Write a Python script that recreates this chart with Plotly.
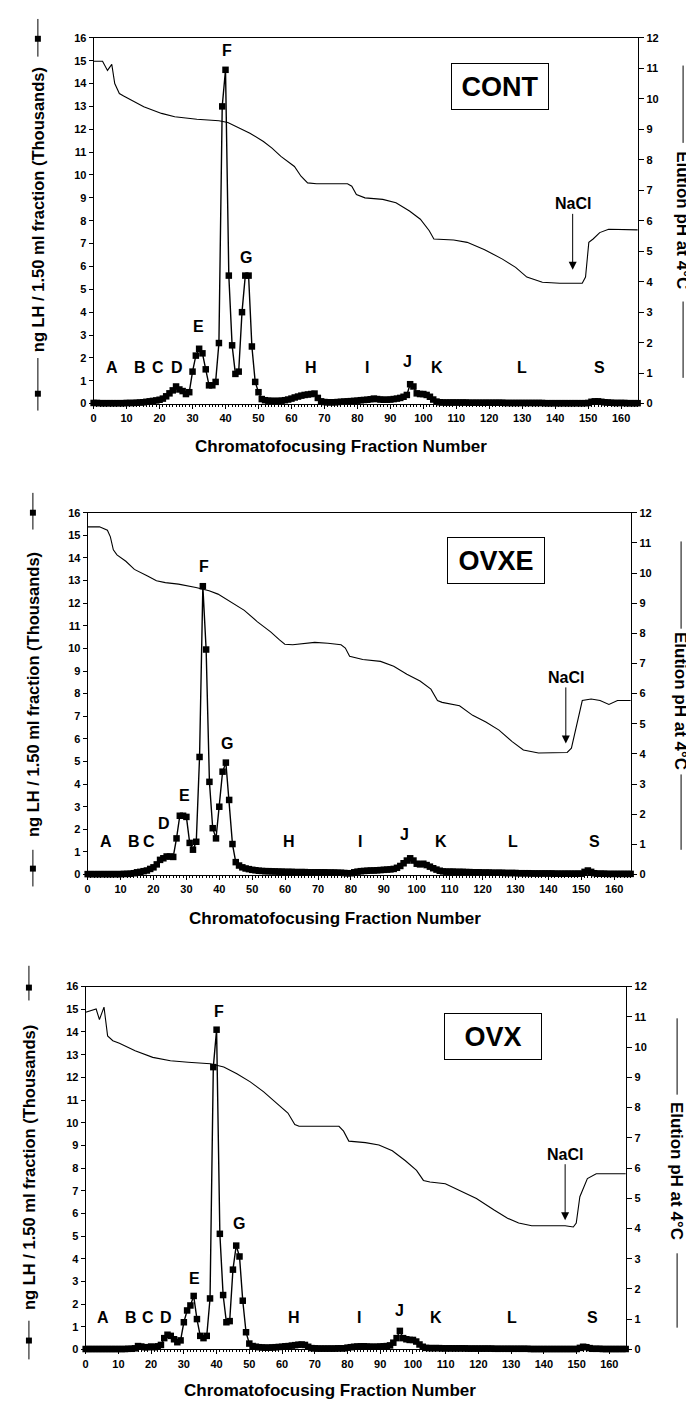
import plotly.graph_objects as go

W, H = 694, 1402
FONT = "Liberation Sans, Arial, sans-serif"

fractions = list(range(166))

lh_cont = [
    0.03, 0.03, 0.02, 0.02, 0.02, 0.02, 0.02, 0.02, 0.02, 0.02,
    0.03, 0.03, 0.03, 0.04, 0.05, 0.06, 0.08, 0.10, 0.12, 0.14,
    0.17, 0.22, 0.32, 0.45, 0.58, 0.75, 0.62, 0.55, 0.42, 0.50,
    1.40, 2.10, 2.40, 2.20, 1.50, 0.80, 0.80, 0.95, 2.65, 13.0,
    14.6, 5.60, 2.55, 1.30, 1.40, 4.00, 5.60, 5.60, 2.50, 0.95,
    0.50, 0.20, 0.15, 0.13, 0.12, 0.12, 0.12, 0.13, 0.15, 0.18,
    0.22, 0.27, 0.31, 0.35, 0.38, 0.40, 0.42, 0.44, 0.25, 0.10,
    0.07, 0.06, 0.06, 0.06, 0.07, 0.08, 0.09, 0.10, 0.11, 0.12,
    0.13, 0.15, 0.16, 0.17, 0.19, 0.22, 0.20, 0.18, 0.17, 0.17,
    0.18, 0.20, 0.22, 0.25, 0.30, 0.38, 0.85, 0.75, 0.45, 0.42,
    0.42, 0.38, 0.30, 0.18, 0.09, 0.06, 0.05, 0.05, 0.05, 0.05,
    0.05, 0.05, 0.05, 0.05, 0.04, 0.04, 0.04, 0.04, 0.04, 0.04,
    0.04, 0.04, 0.04, 0.04, 0.04, 0.03, 0.03, 0.03, 0.03, 0.03,
    0.03, 0.03, 0.03, 0.03, 0.03, 0.03, 0.03, 0.02, 0.02, 0.02,
    0.02, 0.02, 0.02, 0.02, 0.02, 0.02, 0.02, 0.02, 0.02, 0.02,
    0.03, 0.08, 0.10, 0.10, 0.08, 0.06, 0.05, 0.04, 0.03, 0.03,
    0.03, 0.03, 0.02, 0.02, 0.02, 0.02,
]

lh_ovxe = [
    0.02, 0.02, 0.02, 0.02, 0.02, 0.02, 0.02, 0.02, 0.02, 0.02,
    0.02, 0.03, 0.03, 0.04, 0.06, 0.10, 0.12, 0.15, 0.18, 0.25,
    0.32, 0.45, 0.65, 0.72, 0.80, 0.80, 0.78, 1.60, 2.60, 2.60,
    2.55, 1.40, 1.10, 1.45, 5.20, 12.75, 9.95, 4.10, 2.05, 1.60,
    3.00, 4.55, 4.95, 3.30, 1.35, 0.55, 0.40, 0.32, 0.27, 0.24,
    0.21, 0.19, 0.17, 0.16, 0.15, 0.15, 0.14, 0.14, 0.13, 0.13,
    0.12, 0.12, 0.12, 0.11, 0.11, 0.11, 0.11, 0.10, 0.10, 0.10,
    0.10, 0.10, 0.10, 0.09, 0.09, 0.09, 0.08, 0.08, 0.07, 0.06,
    0.06, 0.10, 0.13, 0.15, 0.16, 0.17, 0.18, 0.18, 0.19, 0.20,
    0.21, 0.22, 0.23, 0.25, 0.30, 0.38, 0.50, 0.62, 0.72, 0.62,
    0.48, 0.45, 0.48, 0.42, 0.35, 0.28, 0.22, 0.17, 0.14, 0.13,
    0.13, 0.13, 0.12, 0.12, 0.12, 0.11, 0.11, 0.10, 0.10, 0.10,
    0.09, 0.09, 0.09, 0.08, 0.08, 0.08, 0.08, 0.07, 0.07, 0.07,
    0.07, 0.06, 0.06, 0.06, 0.06, 0.05, 0.05, 0.05, 0.05, 0.05,
    0.05, 0.05, 0.04, 0.04, 0.04, 0.04, 0.04, 0.04, 0.04, 0.04,
    0.04, 0.12, 0.18, 0.12, 0.06, 0.04, 0.04, 0.04, 0.03, 0.03,
    0.03, 0.03, 0.03, 0.03, 0.03, 0.03,
]

lh_ovx = [
    0.02, 0.02, 0.02, 0.02, 0.02, 0.02, 0.02, 0.02, 0.02, 0.02,
    0.02, 0.02, 0.02, 0.03, 0.03, 0.05, 0.15, 0.13, 0.10, 0.10,
    0.13, 0.10, 0.14, 0.20, 0.50, 0.65, 0.60, 0.45, 0.32, 0.40,
    1.20, 1.72, 1.94, 2.36, 1.34, 0.60, 0.50, 0.60, 2.25, 12.45,
    14.1, 5.10, 2.40, 1.20, 1.25, 3.52, 4.58, 4.10, 2.15, 0.76,
    0.26, 0.15, 0.12, 0.10, 0.09, 0.08, 0.08, 0.09, 0.10, 0.11,
    0.12, 0.14, 0.15, 0.17, 0.19, 0.21, 0.22, 0.20, 0.12, 0.06,
    0.05, 0.04, 0.04, 0.04, 0.04, 0.04, 0.04, 0.05, 0.05, 0.05,
    0.08, 0.10, 0.12, 0.13, 0.14, 0.14, 0.13, 0.12, 0.12, 0.12,
    0.13, 0.14, 0.15, 0.18, 0.30, 0.50, 0.82, 0.50, 0.45, 0.42,
    0.42, 0.35, 0.22, 0.12, 0.07, 0.06, 0.06, 0.06, 0.06, 0.05,
    0.05, 0.05, 0.05, 0.05, 0.05, 0.05, 0.05, 0.04, 0.04, 0.04,
    0.04, 0.04, 0.04, 0.04, 0.04, 0.03, 0.03, 0.03, 0.03, 0.03,
    0.03, 0.03, 0.03, 0.03, 0.03, 0.03, 0.02, 0.02, 0.02, 0.02,
    0.02, 0.02, 0.02, 0.02, 0.02, 0.02, 0.02, 0.02, 0.02, 0.02,
    0.02, 0.07, 0.12, 0.10, 0.06, 0.03, 0.03, 0.03, 0.02, 0.02,
    0.02, 0.02, 0.02, 0.02, 0.02, 0.02,
]

ph_cont_x = [0, 2.7, 4.2, 5.5, 6.4, 7.8, 9.1, 12.5, 15.2, 20.6, 24.6, 31.3, 38.0, 40.7,
             43.4, 47.4, 51.5, 54.1, 56.8, 60.9, 62.9, 64.9, 67.6, 77.0, 78.3, 79.7,
             82.3, 87.7, 91.7, 95.8, 99.1, 101.8, 103.2, 109.2, 113.3, 118.6, 124.0,
             128.0, 131.4, 136.1, 141.4, 148.2, 149.2, 150.2, 151.5, 153.5, 156.2, 165]
ph_cont_y = [11.23, 11.23, 10.93, 11.13, 10.5, 10.17, 10.09, 9.9, 9.74, 9.52, 9.41, 9.33,
             9.28, 9.22, 9.09, 8.87, 8.6, 8.38, 8.11, 7.78, 7.46, 7.24, 7.21, 7.21, 7.13,
             6.86, 6.75, 6.7, 6.59, 6.32, 6.05, 5.67, 5.4, 5.37, 5.29, 5.05, 4.74, 4.47,
             4.15, 3.98, 3.95, 3.95, 4.15, 5.29, 5.4, 5.61, 5.72, 5.7]

ph_ovxe_x = [0, 3.6, 6.0, 6.9, 7.8, 8.9, 11.6, 14.2, 18.2, 20.9, 23.6, 27.6, 32.9, 36.9,
             39.6, 43.6, 47.6, 51.6, 55.6, 58.3, 59.9, 62.3, 69.0, 73.0, 77.0, 78.3,
             79.6, 83.6, 89.0, 93.0, 97.0, 101.0, 104.3, 106.3, 107.7, 113.0, 117.0,
             121.0, 125.0, 129.0, 132.4, 137.0, 145.7, 147.0, 149.0, 150.3, 153.0,
             155.7, 158.4, 161.0, 165]
ph_ovxe_y = [11.53, 11.53, 11.42, 11.2, 10.77, 10.6, 10.39, 10.12, 9.9, 9.74, 9.68, 9.63,
             9.52, 9.41, 9.3, 9.03, 8.76, 8.38, 8.05, 7.78, 7.64, 7.62, 7.7, 7.67, 7.62,
             7.51, 7.24, 7.13, 7.07, 6.91, 6.64, 6.42, 6.15, 5.77, 5.71, 5.6, 5.28, 5.06,
             4.79, 4.41, 4.13, 4.03, 4.05, 4.19, 5.11, 5.77, 5.82, 5.77, 5.64, 5.77, 5.77]

ph_ovx_x = [0, 3.2, 4.2, 5.6, 6.7, 8.3, 10.3, 15.1, 20.5, 25.9, 31.3, 38.1, 42.2, 46.2,
            50.3, 54.4, 58.4, 61.8, 63.9, 65.2, 77.4, 78.8, 80.4, 85.5, 89.6, 93.7,
            97.7, 101.1, 103.2, 105.2, 109.9, 114.0, 119.4, 124.8, 128.9, 132.3, 136.3,
            146.5, 149.0, 149.9, 151.0, 153.3, 156.0, 165]
ph_ovx_y = [11.15, 11.26, 10.91, 11.32, 10.37, 10.21, 10.13, 9.88, 9.66, 9.55, 9.5, 9.45,
            9.34, 9.12, 8.85, 8.52, 8.14, 7.82, 7.44, 7.38, 7.38, 7.22, 6.89, 6.84, 6.76,
            6.57, 6.24, 5.92, 5.59, 5.54, 5.48, 5.27, 4.99, 4.61, 4.34, 4.18, 4.09, 4.09,
            4.05, 4.18, 5.05, 5.65, 5.81, 5.81]

peak_letters = ["A", "B", "C", "D", "E", "F", "G", "H", "I", "J", "K", "L", "S"]
peaks_cont_x = [5.7, 14.2, 19.6, 25.4, 31.8, 40.3, 46.3, 65.8, 83.0, 95.1, 104.0, 130.0, 153.5]
peaks_cont_y = [1.56, 1.56, 1.56, 1.56, 3.38, 15.45, 6.4, 1.56, 1.56, 1.86, 1.56, 1.56, 1.56]
peaks_ovxe_x = [5.6, 14.2, 18.6, 23.2, 29.3, 35.2, 42.4, 61.2, 82.7, 96.3, 107.3, 129.3, 154.0]
peaks_ovxe_y = [1.45, 1.45, 1.45, 2.24, 3.5, 13.6, 5.8, 1.45, 1.45, 1.75, 1.45, 1.45, 1.45]
peaks_ovx_x = [5.3, 13.7, 18.9, 24.6, 33.1, 40.8, 46.9, 63.6, 83.5, 95.8, 107.0, 130.3, 155.0]
peaks_ovx_y = [1.4, 1.4, 1.4, 1.4, 3.14, 14.9, 5.55, 1.4, 1.4, 1.7, 1.4, 1.4, 1.4]

group_names = ["CONT", "OVXE", "OVX"]

# layout geometry (pixels)
panels = [
    dict(x0=83, x1=630, y0=24, y1=393, box=(491, 73), nacl=(145.3, 5.85),
         ltitle=(27, 197), rtitle=(675, 208), xtitle=(331, 436),
         ldec=[(5, 43, 25), (347, 400, 383)], rdec=[(52, 130), (290, 367)]),
    dict(x0=77, x1=623, y0=503, y1=868, box=(487, 551), nacl=(145.3, 5.8),
         ltitle=(22, 686), rtitle=(673, 693), xtitle=(325, 912),
         ldec=[(483, 520, 503), (843, 880, 862)], rdec=[(532, 620), (767, 843)]),
    dict(x0=75, x1=618, y0=981, y1=1347, box=(484, 1031), nacl=(146.5, 5.7),
         ltitle=(18, 1163), rtitle=(669, 1167), xtitle=(320, 1388),
         ldec=[(960, 995, 982), (1318, 1357, 1338)], rdec=[(1013, 1090), (1250, 1325)]),
]

lh_data = [lh_cont, lh_ovxe, lh_ovx]
ph_data = [(ph_cont_x, ph_cont_y), (ph_ovxe_x, ph_ovxe_y), (ph_ovx_x, ph_ovx_y)]
peaks = [(peaks_cont_x, peaks_cont_y), (peaks_ovxe_x, peaks_ovxe_y), (peaks_ovx_x, peaks_ovx_y)]


def px(x):
    return x / W


def py(y):
    return 1 - y / H


fig = go.Figure()
annotations = []
shapes = []
layout = dict(
    width=W, height=H, margin=dict(l=0, r=0, t=0, b=0),
    paper_bgcolor="white", plot_bgcolor="white", showlegend=False,
    font=dict(family=FONT, color="black"),
)

tickfont = dict(family=FONT, size=11, color="black", weight="bold")

for i, p in enumerate(panels):
    xa = "xaxis" if i == 0 else f"xaxis{i + 1}"
    xr = "x" if i == 0 else f"x{i + 1}"
    yl_n = 2 * i + 1
    yr_n = 2 * i + 2
    yla = "yaxis" if yl_n == 1 else f"yaxis{yl_n}"
    ylr = "y" if yl_n == 1 else f"y{yl_n}"
    yra = f"yaxis{yr_n}"
    yrr = f"y{yr_n}"

    layout[xa] = dict(
        domain=[px(p["x0"]), px(p["x1"])], anchor=ylr, range=[0, 165.2],
        tickmode="linear", tick0=0, dtick=10, ticks="outside", ticklen=4,
        tickwidth=1, tickcolor="black", showline=True, linecolor="black",
        linewidth=1, mirror=True, showgrid=False, zeroline=False,
        tickfont=tickfont,
        minor=dict(dtick=1, ticks="outside", ticklen=2, tickcolor="black", showgrid=False),
    )
    layout[yla] = dict(
        domain=[py(p["y1"]), py(p["y0"])], anchor=xr, range=[0, 16],
        tickmode="linear", tick0=0, dtick=1, ticks="outside", ticklen=4,
        tickcolor="black", showline=True, linecolor="black", linewidth=1,
        showgrid=False, zeroline=False, tickfont=tickfont,
    )
    layout[yra] = dict(
        overlaying=ylr, anchor=xr, side="right", range=[0, 12],
        tickmode="linear", tick0=0, dtick=1, ticks="outside", ticklen=5,
        tickcolor="black", showline=True, linecolor="black", linewidth=1,
        showgrid=False, zeroline=False, tickfont=tickfont,
    )

    fig.add_trace(go.Scatter(
        x=ph_data[i][0], y=ph_data[i][1], xaxis=xr, yaxis=yrr, mode="lines",
        line=dict(color="black", width=1.1), cliponaxis=False, hoverinfo="skip",
    ))
    fig.add_trace(go.Scatter(
        x=fractions, y=lh_data[i], xaxis=xr, yaxis=ylr, mode="lines+markers",
        line=dict(color="black", width=1.4),
        marker=dict(symbol="square", size=6.5, color="black"),
        cliponaxis=False,
    ))

    for lab, lx, ly in zip(peak_letters, peaks[i][0], peaks[i][1]):
        annotations.append(dict(
            x=lx, y=ly, xref=xr, yref=ylr, text=lab, showarrow=False,
            xanchor="center", yanchor="middle",
            font=dict(family=FONT, size=16, color="black", weight="bold"),
        ))

    # group label box
    bx, by = p["box"]
    annotations.append(dict(
        x=px(bx), y=py(by), xref="paper", yref="paper", text=group_names[i],
        xanchor="center", yanchor="middle",
        showarrow=False, width=94, height=43, bordercolor="black", borderwidth=1,
        bgcolor="white",
        font=dict(family=FONT, size=27, color="black", weight="bold"),
    ))

    # NaCl arrow
    nx, ntip = p["nacl"]
    annotations.append(dict(
        x=nx, y=ntip, xref=xr, yref=ylr, text="NaCl", showarrow=True,
        ax=0, ay=-66, arrowhead=2, arrowsize=1.6, arrowwidth=1, arrowcolor="black",
        font=dict(family=FONT, size=16, color="black", weight="bold"),
    ))

    # x title
    tx, ty = p["xtitle"]
    annotations.append(dict(
        x=px(tx), y=py(ty), xref="paper", yref="paper",
        xanchor="center", yanchor="middle",
        text="Chromatofocusing Fraction Number", showarrow=False,
        font=dict(family=FONT, size=17, color="black", weight="bold"),
    ))

    # left title
    lx, ly = p["ltitle"]
    annotations.append(dict(
        x=px(lx), y=py(ly), xref="paper", yref="paper", textangle=-90,
        xanchor="center", yanchor="middle",
        text="ng LH / 1.50 ml fraction (Thousands)", showarrow=False,
        font=dict(family=FONT, size=16.5, color="black", weight="bold"),
    ))
    for (a, b, sq) in p["ldec"]:
        shapes.append(dict(type="line", xref="paper", yref="paper",
                           x0=px(lx), x1=px(lx), y0=py(a), y1=py(b),
                           line=dict(color="black", width=1)))
        shapes.append(dict(type="rect", xref="paper", yref="paper",
                           x0=px(lx - 3), x1=px(lx + 3), y0=py(sq - 3), y1=py(sq + 3),
                           fillcolor="black", line=dict(color="black", width=0)))

    # right title
    rx, ry = p["rtitle"]
    annotations.append(dict(
        x=px(rx), y=py(ry), xref="paper", yref="paper", textangle=90,
        xanchor="center", yanchor="middle",
        text="Elution pH at 4°C", showarrow=False,
        font=dict(family=FONT, size=17, color="black", weight="bold"),
    ))
    for (a, b) in p["rdec"]:
        shapes.append(dict(type="line", xref="paper", yref="paper",
                           x0=px(rx), x1=px(rx), y0=py(a), y1=py(b),
                           line=dict(color="black", width=1)))

layout["annotations"] = annotations
layout["shapes"] = shapes
fig.update_layout(**layout)
fig.write_html("out.html")
